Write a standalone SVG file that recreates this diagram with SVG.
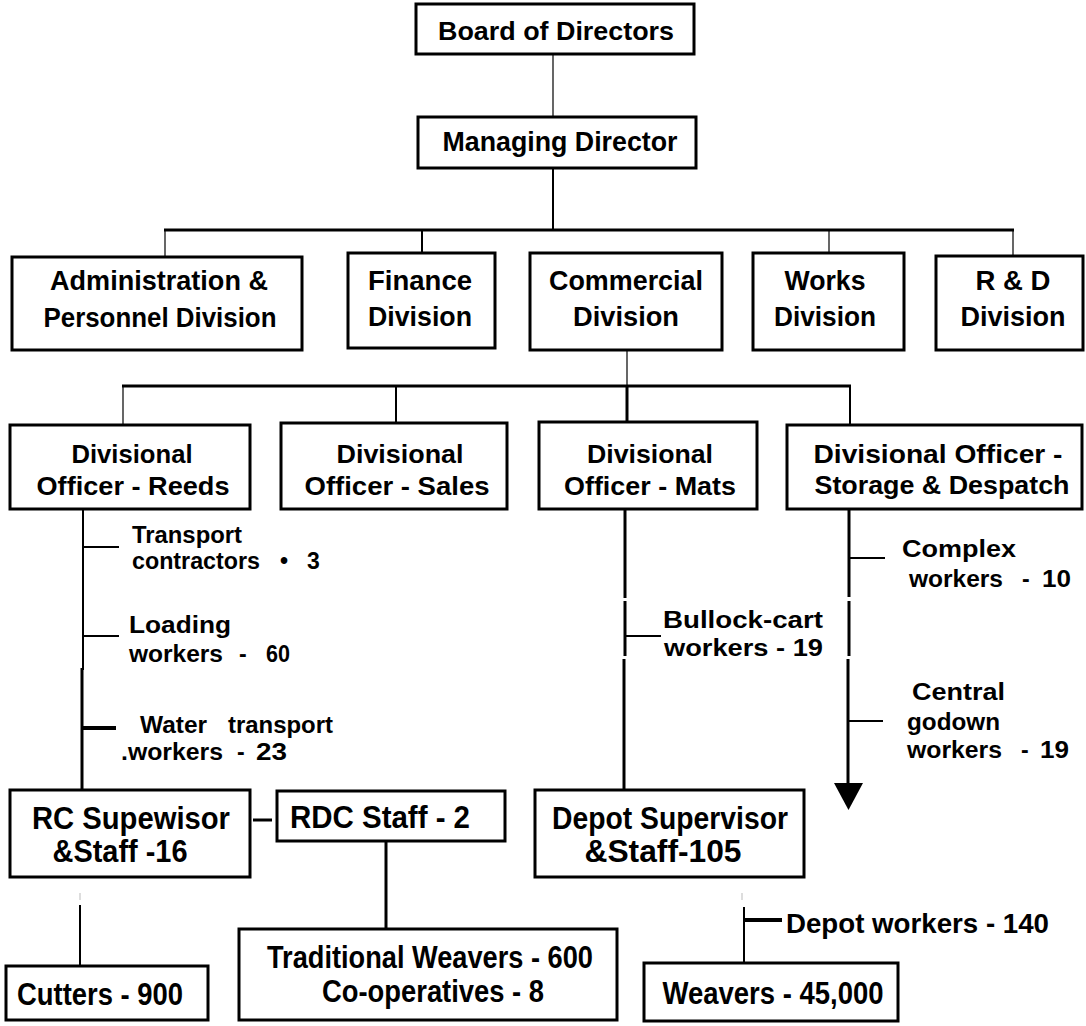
<svg xmlns="http://www.w3.org/2000/svg" width="1086" height="1026" viewBox="0 0 1086 1026">
  <style>
    .box { fill: #fff; stroke: #000; stroke-width: 3; }
    .t { font-family: "Liberation Sans Narrow", "Arial Narrow", "Liberation Sans", Arial, sans-serif; font-weight: bold; fill: #000; text-anchor: middle; }
    .w { font-family: "Liberation Sans", Arial, sans-serif; font-weight: bold; fill: #000; text-anchor: middle; }
    .s { font-family: "Liberation Sans", Arial, sans-serif; font-weight: bold; fill: #000; font-size: 23px; }
    .c1 { stroke: #000; stroke-width: 1.2; fill: none; }
    .c2 { stroke: #000; stroke-width: 2; fill: none; }
    .c3 { stroke: #000; stroke-width: 3; fill: none; }
    .c4 { stroke: #000; stroke-width: 4; fill: none; }
    .faint { stroke: #bbb; stroke-width: 1; }
  </style>

  <!-- connectors -->
  <g id="connectors">
    <!-- top levels -->
    <line class="c1" x1="553" y1="54" x2="553" y2="117"/>
    <line class="c2" x1="553" y1="168" x2="553" y2="230"/>
    <line class="c3" x1="164" y1="230" x2="1014" y2="230"/>
    <line class="c1" x1="165" y1="230" x2="165" y2="257"/>
    <line class="c2" x1="422" y1="230" x2="422" y2="253"/>
    <line class="c1" x1="829" y1="230" x2="829" y2="253"/>
    <line class="c1" x1="1013" y1="230" x2="1013" y2="256"/>

    <!-- commercial division to divisional officers -->
    <line class="c1" x1="627" y1="350" x2="627" y2="386"/>
    <line class="c3" x1="122" y1="386" x2="851" y2="386"/>
    <line class="c1" x1="123" y1="386" x2="123" y2="425"/>
    <line class="c2" x1="396" y1="386" x2="396" y2="423"/>
    <line class="c3" x1="627" y1="386" x2="627" y2="422"/>
    <line class="c2" x1="850" y1="386" x2="850" y2="425"/>

    <!-- reeds chain -->
    <line class="c2" x1="83" y1="509" x2="83" y2="670"/>
    <line class="c3" x1="82" y1="668" x2="82" y2="790"/>
    <line class="c2" x1="83" y1="547" x2="119" y2="547"/>
    <line class="c2" x1="83" y1="636" x2="119" y2="636"/>
    <line class="c4" x1="83" y1="728" x2="116" y2="728"/>

    <!-- mats chain -->
    <line class="c3" x1="625" y1="509" x2="625" y2="598"/>
    <line class="c3" x1="625" y1="601" x2="625" y2="656"/>
    <line class="c3" x1="624" y1="659" x2="624" y2="790"/>
    <line class="c2" x1="625" y1="636" x2="661" y2="636"/>

    <!-- storage chain with arrow -->
    <line class="c3" x1="849" y1="509" x2="849" y2="597"/>
    <line class="c3" x1="849" y1="601" x2="849" y2="656"/>
    <line class="c3" x1="848" y1="659" x2="848" y2="786"/>
    <line class="c2" x1="849" y1="558" x2="885" y2="558"/>
    <line class="c2" x1="849" y1="721" x2="883" y2="721"/>
    <polygon points="834,783 863,783 848.5,810" fill="#000"/>

    <!-- lower links -->
    <line class="c3" x1="253" y1="820" x2="272" y2="820"/>
    <line class="c3" x1="386" y1="841" x2="386" y2="929"/>
    <line class="faint" x1="80" y1="893" x2="80" y2="900"/>
    <line class="c2" x1="80" y1="905" x2="80" y2="966"/>
    <line class="faint" x1="742" y1="893" x2="742" y2="900"/>
    <line class="c2" x1="744" y1="907" x2="744" y2="963"/>
    <line class="c4" x1="744" y1="920" x2="782" y2="920"/>
  </g>

  <!-- top of the chart -->
  <g id="board">
    <rect class="box" x="416" y="4" width="278" height="50"/>
    <text class="t" x="556" y="40" font-size="26" textLength="236" lengthAdjust="spacingAndGlyphs">Board of Directors</text>
  </g>
  <g id="managing-director">
    <rect class="box" x="418" y="117" width="278" height="51"/>
    <text class="t" x="560" y="151" font-size="27" textLength="235" lengthAdjust="spacingAndGlyphs">Managing Director</text>
  </g>

  <!-- divisions -->
  <g id="admin-division">
    <rect class="box" x="12" y="257" width="290" height="93"/>
    <text class="t" x="159" y="290" font-size="27" textLength="218" lengthAdjust="spacingAndGlyphs">Administration &amp;</text>
    <text class="t" x="160" y="327" font-size="27" textLength="233" lengthAdjust="spacingAndGlyphs">Personnel Division</text>
  </g>
  <g id="finance-division">
    <rect class="box" x="348" y="253" width="147" height="95"/>
    <text class="t" x="420" y="290" font-size="27" textLength="104" lengthAdjust="spacingAndGlyphs">Finance</text>
    <text class="t" x="420" y="326" font-size="27" textLength="104" lengthAdjust="spacingAndGlyphs">Division</text>
  </g>
  <g id="commercial-division">
    <rect class="box" x="530" y="253" width="192" height="97"/>
    <text class="t" x="626" y="290" font-size="27" textLength="154" lengthAdjust="spacingAndGlyphs">Commercial</text>
    <text class="t" x="626" y="326" font-size="27" textLength="106" lengthAdjust="spacingAndGlyphs">Division</text>
  </g>
  <g id="works-division">
    <rect class="box" x="753" y="253" width="151" height="97"/>
    <text class="t" x="825" y="290" font-size="27" textLength="81" lengthAdjust="spacingAndGlyphs">Works</text>
    <text class="t" x="825" y="326" font-size="27" textLength="102" lengthAdjust="spacingAndGlyphs">Division</text>
  </g>
  <g id="rd-division">
    <rect class="box" x="936" y="256" width="147" height="94"/>
    <text class="t" x="1013" y="290" font-size="27" textLength="75" lengthAdjust="spacingAndGlyphs">R &amp; D</text>
    <text class="t" x="1013" y="326" font-size="27" textLength="105" lengthAdjust="spacingAndGlyphs">Division</text>
  </g>

  <!-- divisional officers -->
  <g id="officer-reeds">
    <rect class="box" x="10" y="425" width="240" height="84"/>
    <text class="t" x="132" y="463" font-size="25" textLength="121" lengthAdjust="spacingAndGlyphs">Divisional</text>
    <text class="t" x="133" y="495" font-size="25" textLength="193" lengthAdjust="spacingAndGlyphs">Officer - Reeds</text>
  </g>
  <g id="officer-sales">
    <rect class="box" x="281" y="423" width="226" height="86"/>
    <text class="t" x="400" y="463" font-size="25" textLength="127" lengthAdjust="spacingAndGlyphs">Divisional</text>
    <text class="t" x="397" y="495" font-size="25" textLength="185" lengthAdjust="spacingAndGlyphs">Officer - Sales</text>
  </g>
  <g id="officer-mats">
    <rect class="box" x="539" y="422" width="218" height="87"/>
    <text class="t" x="650" y="463" font-size="25" textLength="126" lengthAdjust="spacingAndGlyphs">Divisional</text>
    <text class="t" x="650" y="495" font-size="25" textLength="172" lengthAdjust="spacingAndGlyphs">Officer - Mats</text>
  </g>
  <g id="officer-storage">
    <rect class="box" x="787" y="425" width="295" height="84"/>
    <text class="t" x="938" y="463" font-size="25" textLength="249" lengthAdjust="spacingAndGlyphs">Divisional Officer -</text>
    <text class="t" x="942" y="494" font-size="25" textLength="255" lengthAdjust="spacingAndGlyphs">Storage &amp; Despatch</text>
  </g>

  <!-- staff labels on the branches -->
  <g id="label-transport">
    <text class="s" x="132" y="543" textLength="110" lengthAdjust="spacingAndGlyphs">Transport</text>
    <text class="s" x="132" y="569" textLength="128" lengthAdjust="spacingAndGlyphs">contractors</text>
    <text class="s" x="280" y="569">•</text>
    <text class="s" x="307" y="569">3</text>
  </g>
  <g id="label-loading">
    <text class="s" x="129" y="633" textLength="102" lengthAdjust="spacingAndGlyphs">Loading</text>
    <text class="s" x="129" y="662" textLength="94" lengthAdjust="spacingAndGlyphs">workers</text>
    <text class="s" x="239" y="662">-</text>
    <text class="s" x="266" y="662" textLength="24" lengthAdjust="spacingAndGlyphs">60</text>
  </g>
  <g id="label-water">
    <text class="s" x="140" y="733" textLength="67" lengthAdjust="spacingAndGlyphs">Water</text>
    <text class="s" x="228" y="733" textLength="105" lengthAdjust="spacingAndGlyphs">transport</text>
    <text class="s" x="121" y="760" textLength="102" lengthAdjust="spacingAndGlyphs">.workers</text>
    <text class="s" x="237" y="760">-</text>
    <text class="s" x="256" y="760" textLength="31" lengthAdjust="spacingAndGlyphs">23</text>
  </g>
  <g id="label-bullock">
    <text class="s" x="663" y="628" font-size="25" textLength="160" lengthAdjust="spacingAndGlyphs">Bullock-cart</text>
    <text class="s" x="664" y="656" font-size="25" textLength="159" lengthAdjust="spacingAndGlyphs">workers - 19</text>
  </g>
  <g id="label-complex">
    <text class="s" x="902" y="557" textLength="114" lengthAdjust="spacingAndGlyphs">Complex</text>
    <text class="s" x="909" y="587" textLength="94" lengthAdjust="spacingAndGlyphs">workers</text>
    <text class="s" x="1022" y="587">-</text>
    <text class="s" x="1042" y="587" textLength="29" lengthAdjust="spacingAndGlyphs">10</text>
  </g>
  <g id="label-central">
    <text class="s" x="912" y="700" textLength="93" lengthAdjust="spacingAndGlyphs">Central</text>
    <text class="s" x="907" y="730" textLength="93" lengthAdjust="spacingAndGlyphs">godown</text>
    <text class="s" x="907" y="758" textLength="95" lengthAdjust="spacingAndGlyphs">workers</text>
    <text class="s" x="1021" y="758">-</text>
    <text class="s" x="1040" y="758" textLength="29" lengthAdjust="spacingAndGlyphs">19</text>
  </g>

  <!-- supervisors -->
  <g id="rc-supervisor">
    <rect class="box" x="10" y="790" width="240" height="87"/>
    <text class="t" x="131" y="829" font-size="31" textLength="198" lengthAdjust="spacingAndGlyphs">RC  Supewisor</text>
    <text class="t" x="120" y="862" font-size="31" textLength="135" lengthAdjust="spacingAndGlyphs">&amp;Staff -16</text>
  </g>
  <g id="rdc-staff">
    <rect class="box" x="277" y="791" width="228" height="50"/>
    <text class="t" x="380" y="828" font-size="32" textLength="180" lengthAdjust="spacingAndGlyphs">RDC  Staff -  2</text>
  </g>
  <g id="depot-supervisor">
    <rect class="box" x="535" y="790" width="269" height="87"/>
    <text class="w" x="670" y="829" font-size="31" textLength="236" lengthAdjust="spacingAndGlyphs">Depot  Supervisor</text>
    <text class="w" x="663" y="862" font-size="31" textLength="157" lengthAdjust="spacingAndGlyphs">&amp;Staff-105</text>
  </g>

  <!-- bottom row -->
  <g id="cutters">
    <rect class="box" x="6" y="966" width="202" height="54"/>
    <text class="t" x="100" y="1005" font-size="32" textLength="166" lengthAdjust="spacingAndGlyphs">Cutters - 900</text>
  </g>
  <g id="traditional-weavers">
    <rect class="box" x="239" y="929" width="378" height="91"/>
    <text class="t" x="430" y="968" font-size="31" textLength="326" lengthAdjust="spacingAndGlyphs">Traditional Weavers - 600</text>
    <text class="t" x="433" y="1002" font-size="31" textLength="222" lengthAdjust="spacingAndGlyphs">Co-operatives - 8</text>
  </g>
  <g id="label-depot-workers">
    <text class="t" x="786" y="933" font-size="28" style="text-anchor:start" textLength="263" lengthAdjust="spacingAndGlyphs">Depot workers - 140</text>
  </g>
  <g id="weavers">
    <rect class="box" x="644" y="963" width="254" height="58"/>
    <text class="t" x="773" y="1004" font-size="32" textLength="221" lengthAdjust="spacingAndGlyphs">Weavers - 45,000</text>
  </g>
</svg>
